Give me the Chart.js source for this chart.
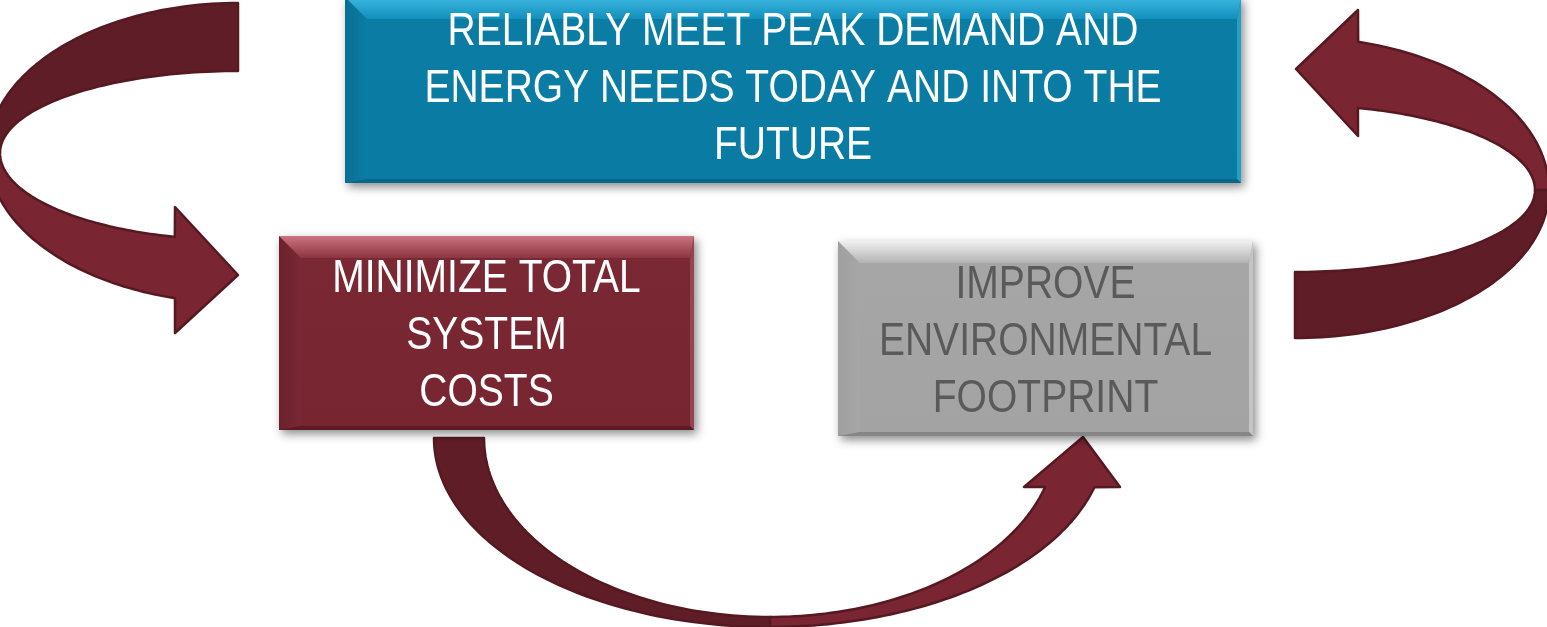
<!DOCTYPE html>
<html><head><meta charset="utf-8">
<script src="https://cdn.jsdelivr.net/npm/chart.js@4/dist/chart.umd.min.js"></script>
<style>
html,body{margin:0;padding:0;background:#ffffff;overflow:hidden}
#wrap{width:1547px;height:627px;position:relative}
</style></head>
<body><div id="wrap"><canvas id="c"></canvas></div>
<script>
// ---- data ----
const nodeNames = ["Reliability", "Cost", "Environment"];
const nodeLabels = [
  ["RELIABLY MEET PEAK DEMAND AND", "ENERGY NEEDS TODAY AND INTO THE", "FUTURE"],
  ["MINIMIZE TOTAL", "SYSTEM", "COSTS"],
  ["IMPROVE", "ENVIRONMENTAL", "FOOTPRINT"]
];
const flowFrom = [0, 1, 2];
const flowTo   = [1, 2, 0];

// ---- layout (axis units: x 0..1547, y 0..627 top-down) ----
const W = 1547, H = 627;
const themes = {
  teal:   {face:'#0b7da5', faceB:'#0a7ba2', topA:'#3db7e2', topB:'#1190bb', left:'#0a6d92', right:'#2a9dc6', bottom:'#07668a', text:'#ffffff'},
  maroon: {face:'#7a2834', faceB:'#782532', topA:'#cc7581', topB:'#8c3542', left:'#6b212c', right:'#954550', bottom:'#5c1a24', text:'#ffffff'},
  grey:   {face:'#a6a6a6', faceB:'#a3a3a3', topA:'#f0f0f0', topB:'#b3b3b3', left:'#a0a0a0', right:'#c4c4c4', bottom:'#868686', text:'#5a5a5a'}
};
const boxLayout = [
  {x0:345, y0:-3,  x1:1241, y1:183, theme:'teal',   base:45},
  {x0:279, y0:236, x1:694,  y1:430, theme:'maroon', base:292},
  {x0:838, y0:241, x1:1253, y1:436, theme:'grey',   base:298}
];
const lineGap = 57, fontSize = 47, fitLineWidth = 691;

// curved arrows, angles in degrees (y down), sweeping with decreasing angle
const arrowLayout = [
  { // top box -> cost box (left C arrow)
    cx:238, cy:153, tTail:-90, tMid:-180, tEndO:-255.4, tEndI:-254.6,
    tailO:{rx:250, ry:150}, tailI:{rx:238, ry:82},
    headO:{rx:250, ry:150}, headI:{rx:238, ry:87},
    head:[[175,333],[238,275],[175,207]]
  },
  { // cost box -> environment box (bottom U arrow)
    cx:770, cy:438, tTail:180, tMid:90, tEndO:15.1, tEndI:15.9,
    tailO:{rx:336, ry:189}, tailI:{rx:286, ry:179},
    headO:{rx:336, ry:189}, headI:{rx:286, ry:179},
    head:[[1120,487],[1083,437],[1024,487]]
  },
  { // environment box -> top box (right reversed C arrow)
    cx:1295, cy:190, tTail:90, tMid:0, tEndO:-75.6, tEndI:-74.8,
    tailO:{rx:254, ry:148}, tailI:{rx:240, ry:82},
    headO:{rx:254, ry:153}, headI:{rx:240, ry:85},
    head:[[1358,10],[1296,69],[1358,136]]
  }
];
const arrowDark = '#5f1d27', arrowLight = '#7a2532', arrowEdge = '#561821';

function pickFamily(ctx){
  ctx.font = '40px "Liberation Sans Narrow"';
  const a = ctx.measureText('ENVIRONMENTAL').width;
  ctx.font = '40px "Liberation Sans"';
  const b = ctx.measureText('ENVIRONMENTAL').width;
  return a < b * 0.92 ? '"Liberation Sans Narrow"' : '"Liberation Sans"';
}

const diagramPlugin = {
  id: 'diagram',
  afterDatasetsDraw(chart){
    const ctx = chart.ctx, sx = chart.scales.x, sy = chart.scales.y;
    const P = (x, y) => [sx.getPixelForValue(x), sy.getPixelForValue(y)];
    const rad = d => d * Math.PI / 180;
    function arcPts(cx, cy, e, t0, t1){
      const pts = [], n = 60;
      for (let i = 0; i <= n; i++){
        const t = rad(t0 + (t1 - t0) * i / n);
        pts.push(P(cx + e.rx * Math.cos(t), cy + e.ry * Math.sin(t)));
      }
      return pts;
    }
    function poly(pts, fill){
      ctx.beginPath();
      pts.forEach((p, i) => i ? ctx.lineTo(p[0], p[1]) : ctx.moveTo(p[0], p[1]));
      ctx.closePath();
      ctx.fillStyle = fill; ctx.fill();
      ctx.lineWidth = 2.5; ctx.lineJoin = 'round'; ctx.strokeStyle = arrowEdge; ctx.stroke();
    }
    // arrows (one per flow)
    flowFrom.forEach((f, i) => {
      const a = arrowLayout[i];
      const tail = arcPts(a.cx, a.cy, a.tailO, a.tTail, a.tMid)
        .concat(arcPts(a.cx, a.cy, a.tailI, a.tMid, a.tTail));
      poly(tail, arrowDark);
      const head = arcPts(a.cx, a.cy, a.headO, a.tMid, a.tEndO)
        .concat(a.head.map(h => P(h[0], h[1])))
        .concat(arcPts(a.cx, a.cy, a.headI, a.tEndI, a.tMid));
      poly(head, arrowLight);
    });

    // boxes
    const fam = pickFamily(ctx);
    ctx.font = fontSize + 'px ' + fam;
    const squeeze = fitLineWidth / ctx.measureText(nodeLabels[0][0]).width;
    nodeLabels.forEach((lines, i) => {
      const b = boxLayout[i], th = themes[b.theme];
      const [x0, y0] = P(b.x0, b.y0), [x1, y1] = P(b.x1, b.y1);
      const w = x1 - x0, h = y1 - y0;
      // face + shadow
      ctx.save();
      ctx.shadowColor = 'rgba(0,0,0,0.45)'; ctx.shadowBlur = 9;
      ctx.shadowOffsetX = 3; ctx.shadowOffsetY = 4;
      const fg = ctx.createLinearGradient(0, y0, 0, y1);
      fg.addColorStop(0, th.face); fg.addColorStop(1, th.faceB);
      ctx.fillStyle = fg; ctx.fillRect(x0, y0, w, h);
      ctx.restore();
      const bt = 22, bl = 22, br = 4, bb = 4;
      const quad = (pts, fill) => { ctx.beginPath(); pts.forEach((p, k) => k ? ctx.lineTo(p[0], p[1]) : ctx.moveTo(p[0], p[1])); ctx.closePath(); ctx.fillStyle = fill; ctx.fill(); };
      // left bevel
      quad([[x0, y0], [x0 + bl, y0 + bt], [x0 + bl, y1 - bb], [x0, y1]], th.left);
      const lg = ctx.createLinearGradient(x0, 0, x0 + bl, 0);
      lg.addColorStop(0, th.left); lg.addColorStop(1, th.face);
      quad([[x0, y0], [x0 + bl, y0 + bt], [x0 + bl, y1 - bb], [x0, y1]], lg);
      // right bevel
      quad([[x1, y0], [x1, y1], [x1 - br, y1 - bb], [x1 - br, y0 + bt]], th.right);
      // bottom bevel
      quad([[x0, y1], [x1, y1], [x1 - br, y1 - bb], [x0 + bl, y1 - bb]], th.bottom);
      // top bevel
      const tg = ctx.createLinearGradient(0, y0, 0, y0 + bt);
      tg.addColorStop(0, th.topA); tg.addColorStop(1, th.topB);
      quad([[x0, y0], [x1, y0], [x1 - br, y0 + bt], [x0 + bl, y0 + bt]], tg);
      // text
      ctx.fillStyle = th.text;
      ctx.textAlign = 'center'; ctx.textBaseline = 'alphabetic';
      ctx.font = fontSize + 'px ' + fam;
      const cx = (x0 + x1) / 2;
      lines.forEach((ln, k) => {
        const by = sy.getPixelForValue(b.base + k * lineGap);
        ctx.save(); ctx.translate(cx, by); ctx.scale(squeeze, 1);
        ctx.fillText(ln, 0, 0); ctx.restore();
      });
    });
  }
};

new Chart(document.getElementById('c'), {
  type: 'scatter',
  data: { datasets: [{ label: nodeNames.join(' / '), data: [], pointRadius: 0 }] },
  options: {
    responsive: true, maintainAspectRatio: false, animation: false, events: [],
    layout: { padding: 0 },
    plugins: { legend: { display: false }, tooltip: { enabled: false } },
    scales: {
      x: { type: 'linear', min: 0, max: W, display: false },
      y: { type: 'linear', min: 0, max: H, reverse: true, display: false }
    }
  },
  plugins: [diagramPlugin]
});
</script>
</body></html>
